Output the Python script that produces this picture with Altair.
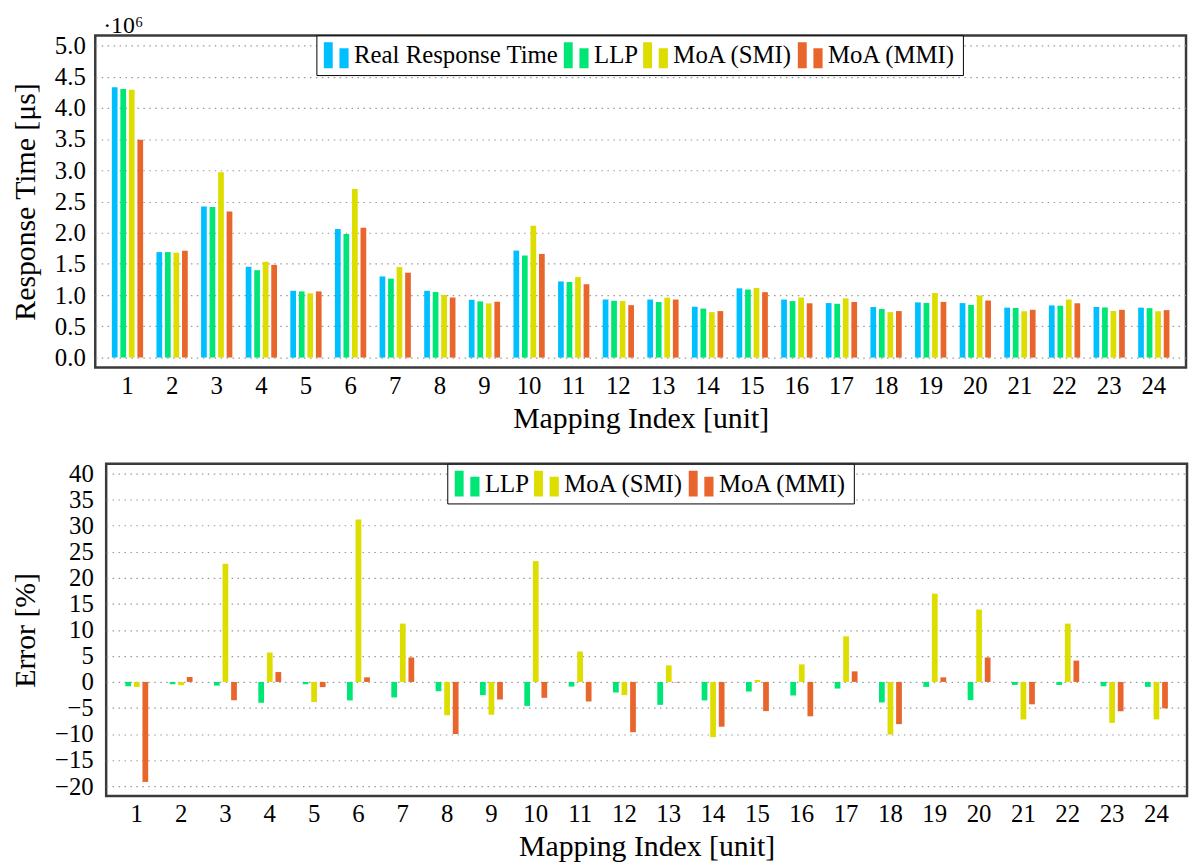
import altair as alt
import pandas as pd

FONT = "Liberation Serif"

idx = list(range(1, 25))

series_top = ["Real Response Time", "LLP", "MoA (SMI)", "MoA (MMI)"]
colors_top = ["#00bfff", "#00e676", "#dddd00", "#e8652c"]

# Response time, in units of 10^6 microseconds
real = [4.33, 1.69, 2.42, 1.455, 1.07, 2.06, 1.30, 1.07, 0.926, 1.714, 1.22, 0.93,
        0.93, 0.815, 1.11, 0.93, 0.873, 0.81, 0.884, 0.873, 0.80, 0.836, 0.81, 0.80]
llp = [4.30, 1.69, 2.41, 1.40, 1.06, 1.98, 1.265, 1.05, 0.90, 1.635, 1.21, 0.91,
       0.89, 0.785, 1.09, 0.905, 0.862, 0.778, 0.875, 0.843, 0.795, 0.831, 0.803, 0.792]
smi = [4.29, 1.68, 2.97, 1.535, 1.03, 2.70, 1.45, 1.003, 0.868, 2.11, 1.29, 0.905,
       0.96, 0.728, 1.114, 0.963, 0.948, 0.728, 1.034, 0.995, 0.742, 0.93, 0.746, 0.742]
mmi = [3.49, 1.71, 2.34, 1.485, 1.06, 2.08, 1.36, 0.963, 0.895, 1.66, 1.175, 0.84,
       0.93, 0.745, 1.048, 0.87, 0.891, 0.745, 0.892, 0.914, 0.766, 0.87, 0.765, 0.76]

series_bot = ["LLP", "MoA (SMI)", "MoA (MMI)"]
colors_bot = ["#00e676", "#dddd00", "#e8652c"]

# Error in percent
e_llp = [-0.83, -0.44, -0.7, -4.0, -0.44, -3.55, -2.98, -1.78, -2.54, -4.6, -0.89, -2.03,
         -4.4, -3.55, -1.84, -2.6, -1.27, -3.94, -0.95, -3.49, -0.57, -0.57, -0.83, -0.95]
e_smi = [-0.95, -0.63, 22.7, 5.65, -3.87, 31.2, 11.2, -6.4, -6.3, 23.2, 5.84, -2.54,
         3.17, -10.6, 0.38, 3.37, 8.76, -10.1, 16.95, 13.9, -7.2, 11.2, -7.87, -7.2]
e_mmi = [-19.2, 0.95, -3.5, 1.9, -1.0, 0.89, 4.7, -10.0, -3.37, -3.05, -3.75, -9.65,
         -0.1, -8.6, -5.6, -6.6, 2.03, -8.1, 0.89, 4.7, -4.3, 4.1, -5.65, -5.08]

top_ticks = [0.0, 0.5, 1.0, 1.5, 2.0, 2.5, 3.0, 3.5, 4.0, 4.5, 5.0]
bot_ticks = [-20, -15, -10, -5, 0, 5, 10, 15, 20, 25, 30, 35, 40]


def long_table(names, arrays):
    rows = []
    for name, vals in zip(names, arrays):
        for i, v in zip(idx, vals):
            rows.append({"idx": i, "series": name, "value": v, "zero": 0})
    return pd.DataFrame(rows)


top_df = long_table(series_top, [real, llp, smi, mmi])
bot_df = long_table(series_bot, [e_llp, e_smi, e_mmi])

SYM = "M-0.96,-1H-0.27V1H-0.96Z M0.25,-0.54H0.96V1H0.25Z"


def legend(x):
    return alt.Legend(
        orient="none", legendX=x, legendY=0, direction="horizontal", columns=4,
        title=None, symbolType=SYM, symbolSize=676, symbolStrokeWidth=0,
        symbolOpacity=1, labelFont=FONT, labelFontSize=25, labelColor="black",
        labelOffset=5, columnPadding=4, padding=7, strokeColor="black",
        fillColor="white", cornerRadius=0, labelLimit=400,
    )


def x_enc(pi, po):
    return alt.X(
        "idx:O", scale=alt.Scale(paddingInner=pi, paddingOuter=po),
        axis=alt.Axis(title="Mapping Index [unit]", labelAngle=0, ticks=False,
                      domain=False, grid=False, labelPadding=6, titlePadding=5),
    )


def y_axis(title, ticks, fmt, lpad):
    return alt.Axis(title=title, values=ticks, format=fmt, ticks=False, domain=False,
                    grid=True, gridDash=[1.5, 4.5], gridColor="#999999", gridWidth=1.2,
                    labelPadding=lpad, titlePadding=14)


def spacer():
    return alt.Chart(pd.DataFrame({"s": [0]})).mark_point(opacity=0).encode(
        x=alt.X("s:Q", axis=None), y=alt.Y("s:Q", axis=None)
    ).properties(width=1, height=1, view=alt.ViewBackground(strokeWidth=0, stroke="transparent"))


top = alt.Chart(
    top_df,
    title=alt.TitleParams("·10⁶", anchor="start", frame="group", fontSize=24, font=FONT,
                          fontWeight="normal", dx=8, offset=-4),
).mark_bar().encode(
    x=x_enc(0.236, 0.34),
    xOffset=alt.XOffset("series:N", sort=series_top,
                        scale=alt.Scale(paddingInner=0.33, paddingOuter=0.165)),
    y=alt.Y("value:Q", scale=alt.Scale(domain=[-0.16, 5.16], nice=False, zero=False),
            axis=y_axis("Response Time [μs]", top_ticks, ".1f", 10)),
    y2="zero:Q",
    color=alt.Color("series:N", sort=series_top,
                    scale=alt.Scale(domain=series_top, range=colors_top),
                    legend=legend(223)),
).properties(width=1100, height=335)

bottom = alt.Chart(bot_df).mark_bar().encode(
    x=x_enc(0.42, 0.40),
    xOffset=alt.XOffset("series:N", sort=series_bot,
                        scale=alt.Scale(paddingInner=0.33, paddingOuter=0.165)),
    y=alt.Y("value:Q", scale=alt.Scale(domain=[-21.9, 41.9], nice=False, zero=False),
            axis=y_axis("Error [%]", bot_ticks, "d", 13)),
    y2="zero:Q",
    color=alt.Color("series:N", sort=series_bot,
                    scale=alt.Scale(domain=series_bot, range=colors_bot),
                    legend=legend(344)),
).properties(width=1090, height=335)

row_top = alt.hconcat(spacer(), top, spacing=0).resolve_scale(
    color="independent", x="independent", y="independent")
row_bot = alt.hconcat(spacer(), bottom, spacing=0).resolve_scale(
    color="independent", x="independent", y="independent")

chart = alt.vconcat(row_top, row_bot, spacing=25).resolve_scale(
    color="independent", x="independent", y="independent", xOffset="independent"
).resolve_legend(color="independent").properties(
    padding={"left": -6, "top": 0, "right": 0, "bottom": 0}
).configure(font=FONT).configure_view(
    stroke="#3a3a3a", strokeWidth=2.5
).configure_axis(
    labelFont=FONT, titleFont=FONT, labelFontSize=25, titleFontSize=30,
    labelColor="black", titleColor="black", titleFontWeight="normal",
)

chart.save("out.html", embed_options={"renderer": "svg", "actions": False})
